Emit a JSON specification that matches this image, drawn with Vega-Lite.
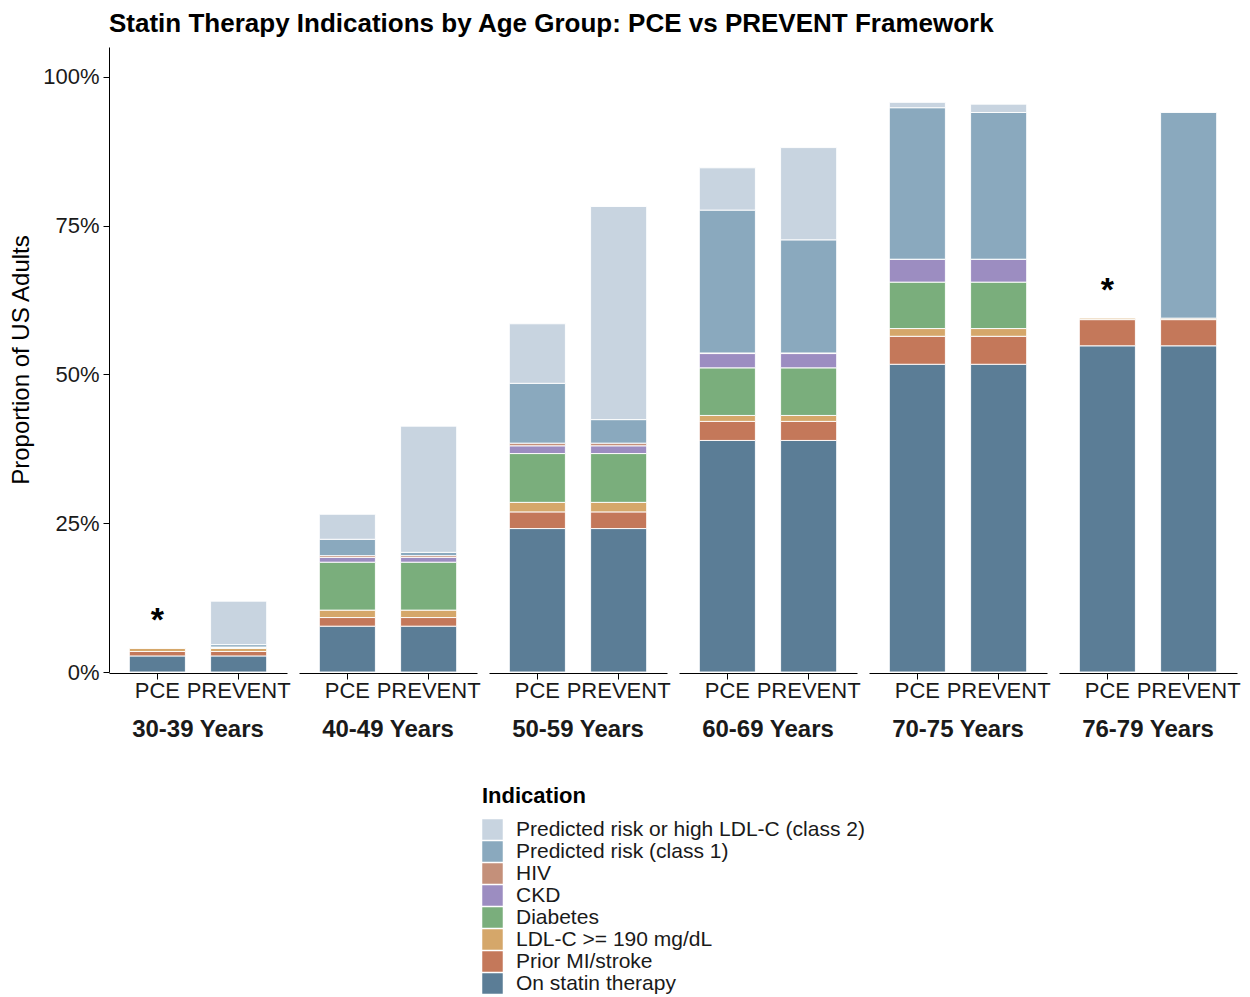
{
  "$schema": "https://vega.github.io/schema/vega-lite/v6.json",
  "background": "white",
  "padding": {"left": 9, "top": 11, "right": 5, "bottom": 5},
  "title": {"text": "Statin Therapy Indications by Age Group: PCE vs PREVENT Framework", "anchor": "start", "frame": "group", "fontSize": 26, "fontWeight": "bold", "font": "Liberation Sans", "color": "black", "offset": 10},
  "data": {"values": [
    {"age": "30-39 Years", "framework": "PCE", "indication": "On statin therapy", "value": 0.027},
    {"age": "30-39 Years", "framework": "PCE", "indication": "Prior MI/stroke", "value": 0.0075},
    {"age": "30-39 Years", "framework": "PCE", "indication": "LDL-C >= 190 mg/dL", "value": 0.005},
    {"age": "30-39 Years", "framework": "PREVENT", "indication": "On statin therapy", "value": 0.027},
    {"age": "30-39 Years", "framework": "PREVENT", "indication": "Prior MI/stroke", "value": 0.0075},
    {"age": "30-39 Years", "framework": "PREVENT", "indication": "LDL-C >= 190 mg/dL", "value": 0.005},
    {"age": "30-39 Years", "framework": "PREVENT", "indication": "Diabetes", "value": 0.0015},
    {"age": "30-39 Years", "framework": "PREVENT", "indication": "CKD", "value": 0.0005},
    {"age": "30-39 Years", "framework": "PREVENT", "indication": "HIV", "value": 0.0005},
    {"age": "30-39 Years", "framework": "PREVENT", "indication": "Predicted risk (class 1)", "value": 0.004},
    {"age": "30-39 Years", "framework": "PREVENT", "indication": "Predicted risk or high LDL-C (class 2)", "value": 0.073},

    {"age": "40-49 Years", "framework": "PCE", "indication": "On statin therapy", "value": 0.077},
    {"age": "40-49 Years", "framework": "PCE", "indication": "Prior MI/stroke", "value": 0.0145},
    {"age": "40-49 Years", "framework": "PCE", "indication": "LDL-C >= 190 mg/dL", "value": 0.0125},
    {"age": "40-49 Years", "framework": "PCE", "indication": "Diabetes", "value": 0.0805},
    {"age": "40-49 Years", "framework": "PCE", "indication": "CKD", "value": 0.008},
    {"age": "40-49 Years", "framework": "PCE", "indication": "HIV", "value": 0.003},
    {"age": "40-49 Years", "framework": "PCE", "indication": "Predicted risk (class 1)", "value": 0.0275},
    {"age": "40-49 Years", "framework": "PCE", "indication": "Predicted risk or high LDL-C (class 2)", "value": 0.042},
    {"age": "40-49 Years", "framework": "PREVENT", "indication": "On statin therapy", "value": 0.077},
    {"age": "40-49 Years", "framework": "PREVENT", "indication": "Prior MI/stroke", "value": 0.0145},
    {"age": "40-49 Years", "framework": "PREVENT", "indication": "LDL-C >= 190 mg/dL", "value": 0.0125},
    {"age": "40-49 Years", "framework": "PREVENT", "indication": "Diabetes", "value": 0.0805},
    {"age": "40-49 Years", "framework": "PREVENT", "indication": "CKD", "value": 0.008},
    {"age": "40-49 Years", "framework": "PREVENT", "indication": "HIV", "value": 0.003},
    {"age": "40-49 Years", "framework": "PREVENT", "indication": "Predicted risk (class 1)", "value": 0.0055},
    {"age": "40-49 Years", "framework": "PREVENT", "indication": "Predicted risk or high LDL-C (class 2)", "value": 0.212},

    {"age": "50-59 Years", "framework": "PCE", "indication": "On statin therapy", "value": 0.241},
    {"age": "50-59 Years", "framework": "PCE", "indication": "Prior MI/stroke", "value": 0.028},
    {"age": "50-59 Years", "framework": "PCE", "indication": "LDL-C >= 190 mg/dL", "value": 0.016},
    {"age": "50-59 Years", "framework": "PCE", "indication": "Diabetes", "value": 0.082},
    {"age": "50-59 Years", "framework": "PCE", "indication": "CKD", "value": 0.013},
    {"age": "50-59 Years", "framework": "PCE", "indication": "HIV", "value": 0.0045},
    {"age": "50-59 Years", "framework": "PCE", "indication": "Predicted risk (class 1)", "value": 0.1005},
    {"age": "50-59 Years", "framework": "PCE", "indication": "Predicted risk or high LDL-C (class 2)", "value": 0.100},
    {"age": "50-59 Years", "framework": "PREVENT", "indication": "On statin therapy", "value": 0.241},
    {"age": "50-59 Years", "framework": "PREVENT", "indication": "Prior MI/stroke", "value": 0.028},
    {"age": "50-59 Years", "framework": "PREVENT", "indication": "LDL-C >= 190 mg/dL", "value": 0.016},
    {"age": "50-59 Years", "framework": "PREVENT", "indication": "Diabetes", "value": 0.082},
    {"age": "50-59 Years", "framework": "PREVENT", "indication": "CKD", "value": 0.013},
    {"age": "50-59 Years", "framework": "PREVENT", "indication": "HIV", "value": 0.0045},
    {"age": "50-59 Years", "framework": "PREVENT", "indication": "Predicted risk (class 1)", "value": 0.0395},
    {"age": "50-59 Years", "framework": "PREVENT", "indication": "Predicted risk or high LDL-C (class 2)", "value": 0.358},

    {"age": "60-69 Years", "framework": "PCE", "indication": "On statin therapy", "value": 0.389},
    {"age": "60-69 Years", "framework": "PCE", "indication": "Prior MI/stroke", "value": 0.032},
    {"age": "60-69 Years", "framework": "PCE", "indication": "LDL-C >= 190 mg/dL", "value": 0.010},
    {"age": "60-69 Years", "framework": "PCE", "indication": "Diabetes", "value": 0.080},
    {"age": "60-69 Years", "framework": "PCE", "indication": "CKD", "value": 0.024},
    {"age": "60-69 Years", "framework": "PCE", "indication": "HIV", "value": 0.001},
    {"age": "60-69 Years", "framework": "PCE", "indication": "Predicted risk (class 1)", "value": 0.240},
    {"age": "60-69 Years", "framework": "PCE", "indication": "Predicted risk or high LDL-C (class 2)", "value": 0.071},
    {"age": "60-69 Years", "framework": "PREVENT", "indication": "On statin therapy", "value": 0.389},
    {"age": "60-69 Years", "framework": "PREVENT", "indication": "Prior MI/stroke", "value": 0.032},
    {"age": "60-69 Years", "framework": "PREVENT", "indication": "LDL-C >= 190 mg/dL", "value": 0.010},
    {"age": "60-69 Years", "framework": "PREVENT", "indication": "Diabetes", "value": 0.080},
    {"age": "60-69 Years", "framework": "PREVENT", "indication": "CKD", "value": 0.024},
    {"age": "60-69 Years", "framework": "PREVENT", "indication": "HIV", "value": 0.001},
    {"age": "60-69 Years", "framework": "PREVENT", "indication": "Predicted risk (class 1)", "value": 0.190},
    {"age": "60-69 Years", "framework": "PREVENT", "indication": "Predicted risk or high LDL-C (class 2)", "value": 0.155},

    {"age": "70-75 Years", "framework": "PCE", "indication": "On statin therapy", "value": 0.517},
    {"age": "70-75 Years", "framework": "PCE", "indication": "Prior MI/stroke", "value": 0.047},
    {"age": "70-75 Years", "framework": "PCE", "indication": "LDL-C >= 190 mg/dL", "value": 0.013},
    {"age": "70-75 Years", "framework": "PCE", "indication": "Diabetes", "value": 0.078},
    {"age": "70-75 Years", "framework": "PCE", "indication": "CKD", "value": 0.038},
    {"age": "70-75 Years", "framework": "PCE", "indication": "HIV", "value": 0.0005},
    {"age": "70-75 Years", "framework": "PCE", "indication": "Predicted risk (class 1)", "value": 0.2545},
    {"age": "70-75 Years", "framework": "PCE", "indication": "Predicted risk or high LDL-C (class 2)", "value": 0.009},
    {"age": "70-75 Years", "framework": "PREVENT", "indication": "On statin therapy", "value": 0.517},
    {"age": "70-75 Years", "framework": "PREVENT", "indication": "Prior MI/stroke", "value": 0.047},
    {"age": "70-75 Years", "framework": "PREVENT", "indication": "LDL-C >= 190 mg/dL", "value": 0.013},
    {"age": "70-75 Years", "framework": "PREVENT", "indication": "Diabetes", "value": 0.078},
    {"age": "70-75 Years", "framework": "PREVENT", "indication": "CKD", "value": 0.038},
    {"age": "70-75 Years", "framework": "PREVENT", "indication": "HIV", "value": 0.0005},
    {"age": "70-75 Years", "framework": "PREVENT", "indication": "Predicted risk (class 1)", "value": 0.2465},
    {"age": "70-75 Years", "framework": "PREVENT", "indication": "Predicted risk or high LDL-C (class 2)", "value": 0.014},

    {"age": "76-79 Years", "framework": "PCE", "indication": "On statin therapy", "value": 0.548},
    {"age": "76-79 Years", "framework": "PCE", "indication": "Prior MI/stroke", "value": 0.044},
    {"age": "76-79 Years", "framework": "PCE", "indication": "LDL-C >= 190 mg/dL", "value": 0.0025},
    {"age": "76-79 Years", "framework": "PREVENT", "indication": "On statin therapy", "value": 0.548},
    {"age": "76-79 Years", "framework": "PREVENT", "indication": "Prior MI/stroke", "value": 0.044},
    {"age": "76-79 Years", "framework": "PREVENT", "indication": "LDL-C >= 190 mg/dL", "value": 0.0025},
    {"age": "76-79 Years", "framework": "PREVENT", "indication": "Predicted risk (class 1)", "value": 0.3455},

    {"age": "30-39 Years", "framework": "PCE", "note": "*", "value": 0.0395},
    {"age": "76-79 Years", "framework": "PCE", "note": "*", "value": 0.5945}
  ]},
  "facet": {
    "column": {
      "field": "age", "type": "nominal",
      "sort": ["30-39 Years", "40-49 Years", "50-59 Years", "60-69 Years", "70-75 Years", "76-79 Years"],
      "header": {"title": null, "labelOrient": "bottom", "labelFontSize": 24, "labelFontWeight": "bold", "labelFont": "Liberation Sans", "labelColor": "#1a1a1a", "labelPadding": 17}
    }
  },
  "spacing": 12,
  "spec": {
    "width": 178,
    "height": 625,
    "layer": [
      {
        "transform": [
          {"filter": "datum.indication != null"},
          {"calculate": "indexof(['On statin therapy', 'Prior MI/stroke', 'LDL-C >= 190 mg/dL', 'Diabetes', 'CKD', 'HIV', 'Predicted risk (class 1)', 'Predicted risk or high LDL-C (class 2)'], datum.indication)", "as": "stackRank"}
        ],
        "mark": {"type": "bar", "stroke": "white", "strokeWidth": 1, "strokeOpacity": 0.9},
        "encoding": {
          "x": {"field": "framework", "type": "nominal", "sort": ["PCE", "PREVENT"],
                "scale": {"paddingInner": 0.31, "paddingOuter": 0.25},
                "axis": {"title": null, "labelAngle": 0, "labelFontSize": 22, "labelFont": "Liberation Sans", "labelColor": "#1a1a1a", "labelOverlap": false, "labelBound": false, "tickSize": 6, "tickColor": "black", "domainColor": "black", "labelPadding": 1}},
          "y": {"field": "value", "type": "quantitative", "stack": "zero",
                "scale": {"domain": [0, 1.05], "nice": false},
                "axis": {"title": "Proportion of US Adults", "values": [0, 0.25, 0.5, 0.75, 1], "format": ".0%", "grid": false, "labelFontSize": 22, "labelFont": "Liberation Sans", "labelColor": "#1a1a1a", "titleFontSize": 24, "titleFont": "Liberation Sans", "titleFontWeight": "normal", "titleColor": "black", "tickSize": 6, "tickColor": "black", "domainColor": "black", "labelPadding": 4, "titlePadding": 9}},
          "order": {"field": "stackRank", "type": "quantitative", "sort": "ascending"},
          "color": {"field": "indication", "type": "nominal",
                    "scale": {"domain": ["Predicted risk or high LDL-C (class 2)", "Predicted risk (class 1)", "HIV", "CKD", "Diabetes", "LDL-C >= 190 mg/dL", "Prior MI/stroke", "On statin therapy"],
                              "range": ["#C8D4E0", "#8AA9BE", "#C4907A", "#9C8DC1", "#7AAE7C", "#D5A76A", "#C4785A", "#5B7D96"]},
                    "legend": {"title": "Indication", "orient": "none", "legendX": 373, "legendY": 739, "titleFontSize": 22, "titleFont": "Liberation Sans", "titleFontWeight": "bold", "titleColor": "black", "titlePadding": 11, "labelFontSize": 21, "labelFont": "Liberation Sans", "labelColor": "#1a1a1a", "labelLimit": 0, "symbolType": "square", "symbolSize": 420, "symbolStrokeWidth": 0, "symbolOpacity": 1, "rowPadding": 0, "labelOffset": 13}}
        }
      },
      {
        "transform": [{"filter": "datum.note != null"}],
        "mark": {"type": "text", "fontSize": 34, "fontWeight": "bold", "font": "Liberation Sans", "color": "black", "baseline": "alphabetic", "dy": -17},
        "encoding": {
          "x": {"field": "framework", "type": "nominal", "sort": ["PCE", "PREVENT"]},
          "y": {"field": "value", "type": "quantitative"},
          "text": {"field": "note"}
        }
      }
    ]
  },
  "config": {
    "view": {"stroke": null},
    "font": "Liberation Sans"
  }
}
